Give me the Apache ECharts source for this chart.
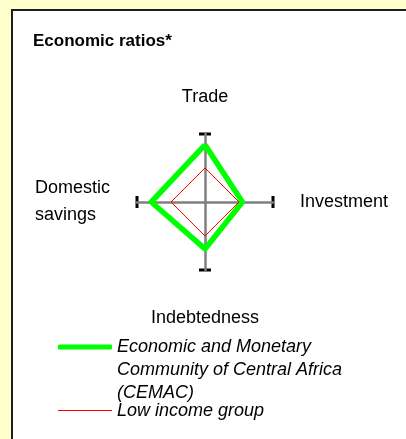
<!DOCTYPE html>
<html>
<head>
<meta charset="utf-8">
<script src="https://cdn.jsdelivr.net/npm/echarts@6/dist/echarts.min.js"></script>
<style>
  html, body { margin: 0; padding: 0; background: #FFFFCC; }
  #chart { width: 406px; height: 439px; }
</style>
</head>
<body>
<div id="chart"></div>
<script>
  // data
  var indicatorNames = ['Trade', 'Domestic savings', 'Indebtedness', 'Investment'];
  var indicatorMax = 1;
  var cemacValues = [0.84, 0.79, 0.69, 0.55];
  var lowIncomeValues = [0.5, 0.5, 0.5, 0.5];
  var seriesNames = ['Economic and Monetary Community of Central Africa (CEMAC)', 'Low income group'];
  // leading blank lines keep the first line level with the legend line
  var legendLabels = ['\n\nEconomic and Monetary\nCommunity of Central Africa\n(CEMAC)', 'Low income group'];

  var FONT = 'Liberation Sans, Arial, sans-serif';
  var nameKeys = { 'Trade': 't', 'Domestic savings': 'l', 'Indebtedness': 'b', 'Investment': 'r' };

  var indicators = indicatorNames.map(function (n) {
    return { name: n, max: indicatorMax };
  });

  var radarBase = {
    center: [205, 202],
    radius: 68,
    startAngle: 90,
    shape: 'polygon',
    splitNumber: 1,
    splitLine: { show: false },
    splitArea: { show: false },
    axisTick: { show: false },
    axisLabel: { show: false },
    indicator: indicators
  };

  var myChart = echarts.init(document.getElementById('chart'));
  myChart.setOption({
    backgroundColor: '#FFFFCC',
    animation: false,
    textStyle: { fontFamily: FONT },
    graphic: [{
      type: 'rect',
      z: -10,
      shape: { x: 12, y: 10, width: 420, height: 460 },
      style: { fill: '#fff', stroke: '#1f1f1a', lineWidth: 2 }
    }],
    title: {
      text: 'Economic ratios*',
      left: 33,
      top: 33,
      padding: 0,
      textStyle: { fontFamily: FONT, fontSize: 17, fontWeight: 'bold', color: '#000' }
    },
    legend: [{
      data: [seriesNames[0]],
      orient: 'vertical',
      left: 58,
      top: 347 - 57.5,
      padding: 0,
      icon: 'roundRect',
      itemWidth: 54,
      itemHeight: 5,
      selectedMode: false,
      formatter: function () { return legendLabels[0]; },
      textStyle: { fontFamily: FONT, fontSize: 18, fontStyle: 'italic', color: '#000', lineHeight: 23 }
    }, {
      data: [seriesNames[1]],
      orient: 'vertical',
      left: 58,
      top: 399,
      padding: 0,
      icon: 'rect',
      itemWidth: 54,
      itemHeight: 1,
      selectedMode: false,
      formatter: function () { return legendLabels[1]; },
      textStyle: { fontFamily: FONT, fontSize: 18, fontStyle: 'italic', color: '#000', lineHeight: 23 }
    }],
    radar: [
      // black end caps
      Object.assign({}, radarBase, {
        z: 1,
        axisName: { show: false },
        axisLine: {
          symbol: ['none', 'rect'],
          symbolSize: [12, 3],
          lineStyle: { color: '#000', width: 1 }
        }
      }),
      // grey axes with names
      Object.assign({}, radarBase, {
        z: 2,
        nameGap: 27,
        axisLine: { lineStyle: { color: '#808080', width: 2.5 } },
        axisName: {
          color: '#000',
          fontFamily: FONT,
          fontSize: 18,
          formatter: function (name) {
            var key = nameKeys[name];
            if (key === 'l') return '{l|Domestic}\n{l|savings}';
            return '{' + key + '|' + name + '}';
          },
          rich: {
            t: { fontSize: 18, fontFamily: FONT, color: '#000', padding: [0, 0, 1, 0] },
            r: { fontSize: 18, fontFamily: FONT, color: '#000' },
            b: { fontSize: 18, fontFamily: FONT, color: '#000', padding: [12, 0, 0, 0] },
            l: { fontSize: 18, fontFamily: FONT, color: '#000', width: 70, align: 'left', lineHeight: 27, padding: [0, 5, 0, 0] }
          }
        }
      })
    ],
    series: [{
      type: 'radar',
      radarIndex: 1,
      z: 5,
      symbol: 'none',
      data: [{
        name: seriesNames[0],
        value: cemacValues,
        lineStyle: { color: '#00FF00', width: 5.5 },
        itemStyle: { color: '#00FF00' }
      }, {
        name: seriesNames[1],
        value: lowIncomeValues,
        lineStyle: { color: '#FF0000', width: 1 },
        itemStyle: { color: '#FF0000' }
      }]
    }]
  });

  window.addEventListener('resize', function () {
    myChart.resize();
  });
</script>
</body>
</html>
